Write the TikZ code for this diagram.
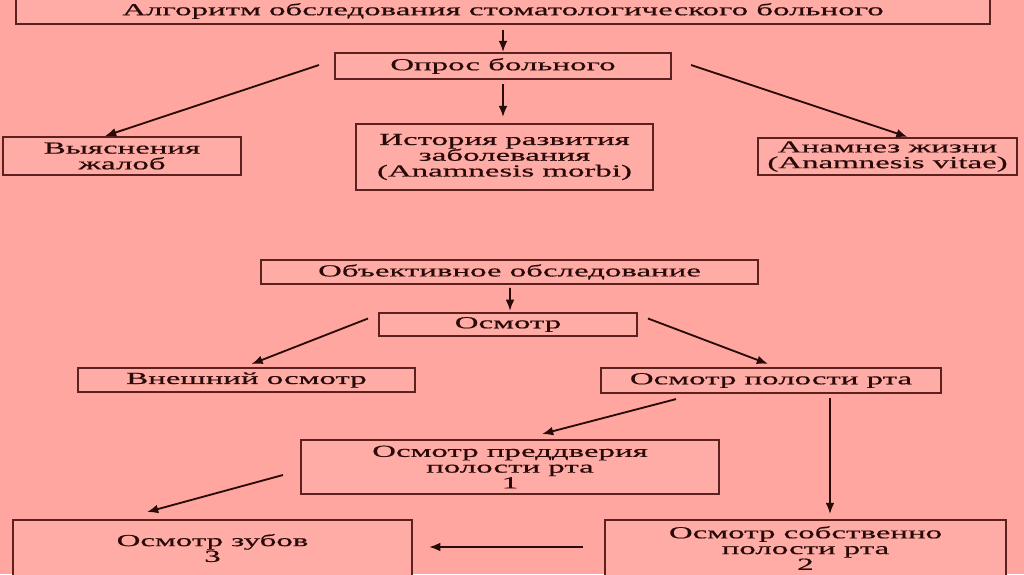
\documentclass[tikz,border=0pt]{standalone}
\usepackage{fontspec}
\newfontfamily\slidefont[FakeStretch=1.95, FakeBold=0.6]{Liberation Serif}
\usetikzlibrary{positioning, arrows.meta, calc}
\definecolor{slidepink}{RGB}{255,166,160}
\definecolor{boxpink}{RGB}{255,172,166}
\definecolor{boxline}{RGB}{92,32,30}
\definecolor{inkdark}{RGB}{40,10,8}

\begin{document}
\begin{tikzpicture}[
    x=0.025cm, y=-0.025cm,
    stepbox/.style={draw=boxline, line width=1.4pt, rectangle, fill=boxpink, inner sep=0pt, align=center, text=inkdark, font=\slidefont\fontsize{12}{11.2}\selectfont},
    arrow/.style={-{Latex[length=2.8mm, width=2.2mm]}, line width=1.3pt, draw=inkdark}
]

    % --- background ---
    \useasboundingbox (0,0) rectangle (1024,574);
    \fill[slidepink] (0,0) rectangle (1024,574);

    % --- Survey of the patient ---
    \node[stepbox, minimum width=24.35cm, minimum height=0.65cm] (algo) at (503,11) {\raisebox{-2pt}{Алгоритм обследования стоматологического больного}};
    \node[stepbox, minimum width=8.4cm, minimum height=0.65cm] (opros) at (503,66) {Опрос больного};
    \node[stepbox, minimum width=5.95cm, minimum height=0.95cm] (zhaloby) at (122,156) {Выяснения\\жалоб};
    \node[stepbox, minimum width=7.43cm, minimum height=1.65cm] (morbi) at (504.5,157) {История развития\\заболевания\\(Anamnesis morbi)};
    \node[stepbox, minimum width=6.48cm, minimum height=0.93cm] (vitae) at (887.5,156.5) {Анамнез жизни\\(Anamnesis vitae)};

    % --- Objective examination ---
    \node[stepbox, minimum width=12.43cm, minimum height=0.6cm] (objekt) at (509.5,272) {Объективное обследование};
    \node[stepbox, minimum width=6.45cm, minimum height=0.58cm] (osmotr) at (508,324.5) {Осмотр};
    \node[stepbox, minimum width=8.43cm, minimum height=0.6cm] (vneshn) at (246.5,380) {Внешний осмотр};
    \node[stepbox, minimum width=8.5cm, minimum height=0.63cm] (polost) at (771,380.5) {Осмотр полости рта};
    \node[stepbox, minimum width=10.45cm, minimum height=1.35cm] (preddv) at (510,467) {Осмотр преддверия\\полости рта\\1};
    \node[stepbox, minimum width=9.98cm, minimum height=1.4cm] (zuby) at (212.5,548) {Осмотр зубов\\3};
    \node[stepbox, minimum width=10.03cm, minimum height=1.4cm] (sobstv) at (805.5,548) {Осмотр собственно\\полости рта\\2};

    % Connectors
    \draw[arrow] ($(algo.south)+(0,5)$) -- (opros.north);
    \draw[arrow] ($(opros.west)+(-15,-1)$) -- ($(zhaloby.north)+(-17,0)$);
    \draw[arrow] ($(opros.south)+(0,4)$) -- ($(morbi.north)+(-1.5,-6)$);
    \draw[arrow] ($(opros.east)+(19,-1)$) -- ($(vitae.north)+(20,0)$);

    \draw[arrow] ($(objekt.south)+(0.5,3)$) -- ($(osmotr.north)+(2,-1)$);
    \draw[arrow] ($(osmotr.west)+(-10,-6)$) -- ($(vneshn.north)+(5,-3)$);
    \draw[arrow] ($(osmotr.east)+(10,-6)$) -- ($(polost.north)+(-3,-3)$);
    \draw[arrow] ($(polost.south)+(-95,5)$) -- ($(preddv.north)+(32,-5)$);
    \draw[arrow] ($(polost.south)+(59,4)$) -- ($(sobstv.north)+(24.5,-5)$);
    \draw[arrow] ($(preddv.west)+(-17,8)$) -- ($(zuby.north)+(-65.5,-7)$);
    \draw[arrow] ($(sobstv.west)+(-21,-1)$) -- ($(zuby.east)+(16,-1)$);

\end{tikzpicture}
\end{document}
